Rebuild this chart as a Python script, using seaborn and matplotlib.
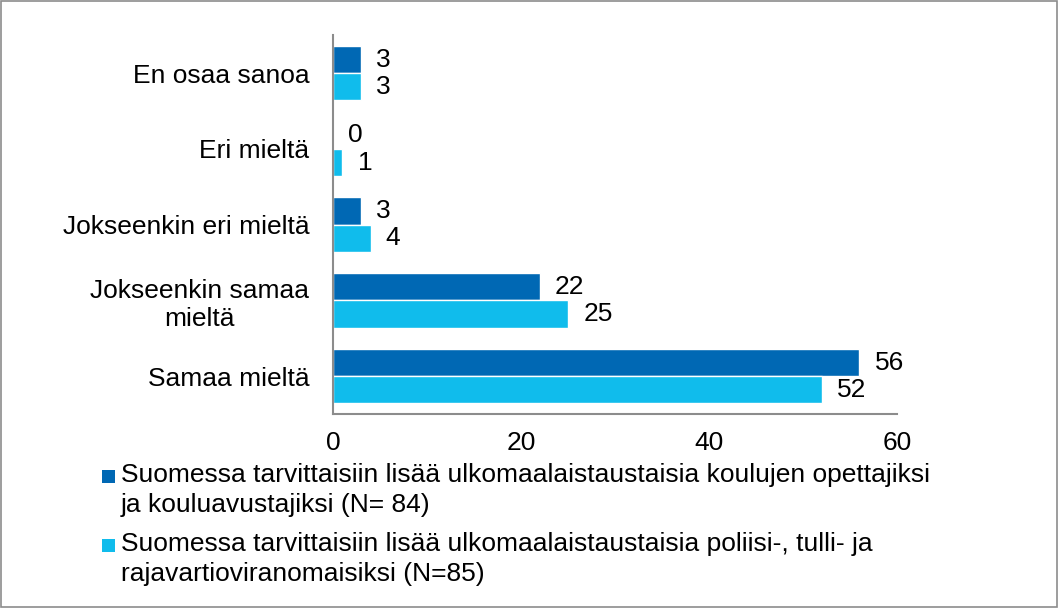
import matplotlib
matplotlib.use("Agg")
import matplotlib.pyplot as plt
import seaborn as sns
import pandas as pd
from matplotlib.patches import Rectangle

categories = ["En osaa sanoa", "Eri mieltä", "Jokseenkin eri mieltä",
              "Jokseenkin samaa\nmieltä", "Samaa mieltä"]
series_names = [
    "Suomessa tarvittaisiin lisää ulkomaalaistaustaisia koulujen opettajiksi\nja kouluavustajiksi (N= 84)",
    "Suomessa tarvittaisiin lisää ulkomaalaistaustaisia poliisi-, tulli- ja\nrajavartioviranomaisiksi (N=85)",
]
values_teachers = [3, 0, 3, 22, 56]
values_police = [3, 1, 4, 25, 52]
x_ticks = [0, 20, 40, 60]
colors = ["#0068B4", "#10BCEC"]

FS = 19

sns.set_theme(style="white")
plt.rcParams["font.family"] = ["Liberation Sans", "DejaVu Sans"]

df = pd.DataFrame({
    "category": categories * 2,
    "value": values_teachers + values_police,
    "series": [series_names[0]] * len(categories) + [series_names[1]] * len(categories),
})

fig = plt.figure(figsize=(10.59, 6.08), dpi=100)
ax = fig.add_axes([0.3144, 0.319, 0.5326, 0.623])
sns.barplot(data=df, y="category", x="value", hue="series", orient="h",
            order=categories, hue_order=series_names, palette=colors,
            width=0.72, gap=0, ax=ax, legend=False, saturation=1)

for cont in ax.containers:
    ax.bar_label(cont, labels=[f"{int(v)}" for v in cont.datavalues],
                 padding=11, fontsize=FS, color="black")

ax.set_xlim(0, 60)
ax.set_xticks(x_ticks)
ax.set_xlabel("")
ax.set_ylabel("")
ax.tick_params(axis="both", length=0, labelsize=FS, colors="black")
ax.tick_params(axis="x", pad=12)
ax.tick_params(axis="y", pad=17)
for s in ["top", "right"]:
    ax.spines[s].set_visible(False)
for s in ["left", "bottom"]:
    ax.spines[s].set_color("#8C8C8C")
    ax.spines[s].set_linewidth(1.5)
for lbl in ax.get_yticklabels():
    lbl.set_horizontalalignment("right")
    lbl.set_multialignment("center")

# legend drawn as square swatches with two-line texts
W, H = 1059, 608
legend_tops = [476, 545]  # pixel centre of first text line
for name, c, yc in zip(series_names, colors, legend_tops):
    fig.patches.append(Rectangle((102 / W, 1 - (yc + 6.5) / H), 13 / W, 13 / H,
                                 transform=fig.transFigure, facecolor=c,
                                 edgecolor="none"))
    fig.text(121 / W, 1 - (yc - 13) / H, name, fontsize=FS, va="top", ha="left",
             linespacing=1.3, color="black")

fig.patches.append(Rectangle((0.001, 0.001), 0.997, 0.997, transform=fig.transFigure,
                             fill=False, edgecolor="#8C8C8C", linewidth=1.2))

fig.savefig("out.png", dpi=100)
